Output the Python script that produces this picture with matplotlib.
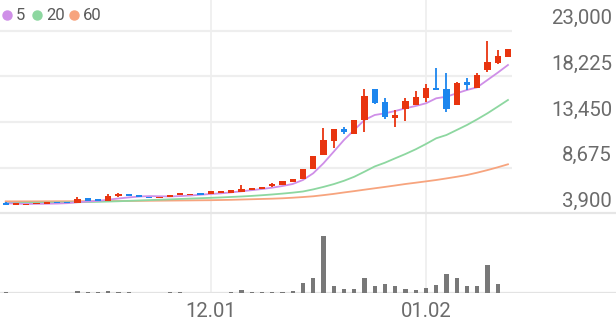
import numpy as np
import matplotlib.pyplot as plt
import matplotlib.transforms as mtransforms

plt.rcParams["font.family"] = ["Roboto", "DejaVu Sans"]

# daily candles (50 sessions)
opens = [5010, 4770, 4740, 4840, 4840, 5050, 5080, 4940, 5470, 5360,
         5220, 5740, 5950, 5740, 5640, 5500, 5640, 5810, 5780, 6020,
         5950, 6060, 6060, 6090, 6340, 6440, 6790, 6900, 7140, 7450,
         8570, 10000, 11500, 12720, 12200, 13660, 16870, 15570, 13840, 14780,
         15230, 15930, 16980, 16870, 15230, 17670, 16980, 18890, 19650, 20220]
highs = [5030, 4950, 4910, 4990, 5060, 5060, 5090, 5600, 5480, 5370,
         5920, 6060, 5960, 5750, 5650, 5610, 5820, 6030, 5960, 6030,
         6210, 6210, 6310, 6860, 6520, 6700, 7100, 7250, 7460, 8510,
         9900, 12790, 12700, 12900, 13700, 16870, 16900, 15930, 14700, 15930,
         16690, 17390, 19070, 18540, 17600, 18080, 18610, 21900, 20980, 21060]
lows = [4750, 4760, 4730, 4830, 4830, 4930, 4930, 4930, 5210, 5210,
        5210, 5640, 5700, 5630, 5490, 5490, 5630, 5800, 5770, 5840,
        5940, 6050, 6050, 6080, 6330, 6430, 6650, 6890, 7130, 7440,
        8560, 9950, 10700, 12200, 12190, 12370, 15300, 13730, 12960, 13590,
        15220, 15570, 16790, 14530, 15200, 16800, 16970, 18710, 19490, 20200]
closes = [4770, 4940, 4900, 4980, 5050, 4940, 4940, 5400, 5220, 5220,
          5740, 5920, 5710, 5640, 5500, 5600, 5810, 6020, 5950, 5850,
          6200, 6200, 6300, 6410, 6510, 6690, 6930, 7240, 7450, 8500,
          9890, 11570, 12690, 12400, 13660, 16170, 15400, 13940, 14180, 15650,
          16100, 16980, 16800, 14780, 17560, 17320, 18370, 19760, 20350, 21050]

ma5 = [4950, 4920, 4880, 4890, 4900, 4920, 4960, 5060, 5130, 5200,
       5320, 5450, 5560, 5650, 5700, 5680, 5660, 5700, 5760, 5840,
       5920, 5990, 6090, 6200, 6320, 6440, 6580, 6756, 6965, 7383,
       8084, 9130, 10343, 11567, 12613, 13659, 14182, 14360, 14600, 14883,
       15124, 15406, 15929, 16097, 16452, 16797, 17080, 17843, 18607, 19412]
ma20 = [4980, 4990, 5000, 5010, 5020, 5030, 5040, 5060, 5080, 5100,
        5130, 5160, 5200, 5240, 5280, 5320, 5360, 5400, 5440, 5480,
        5520, 5560, 5610, 5660, 5720, 5790, 5870, 5960, 6060, 6180,
        6400, 6660, 6950, 7300, 7720, 8250, 8800, 9193, 9653, 10103,
        10594, 11149, 11745, 12090, 12613, 13136, 13732, 14360, 15050, 15751]
ma60 = [5150, 5150, 5150, 5150, 5155, 5160, 5160, 5165, 5170, 5175,
        5180, 5185, 5190, 5200, 5210, 5220, 5230, 5240, 5250, 5260,
        5270, 5290, 5310, 5340, 5370, 5400, 5430, 5470, 5530, 5600,
        5680, 5800, 5930, 6080, 6220, 6370, 6515, 6660, 6810, 6965,
        7100, 7240, 7383, 7550, 7720, 7906, 8150, 8420, 8712, 9025]

# volume in thousand shares
volume = [90, 70, 80, 60, 70, 60, 80, 270, 110, 90,
          250, 120, 100, 70, 80, 60, 90, 150, 80, 70,
          80, 70, 90, 330, 110, 120, 140, 160, 250, 1060,
          1500, 5760, 730, 400, 400, 1560, 760, 900, 730, 430,
          380, 570, 830, 1900, 1530, 770, 730, 2800, 910, 0]

price_ticks = [3900, 8675, 13450, 18225, 23000]
tick_idx = [20, 41]
tick_labels = ["12.01", "01.02"]
ma_names = ["5", "20", "60"]

up_color = "#e8340f"
down_color = "#1d86ee"
ma_colors = ["#cf8fe8", "#8dd7a0", "#f7a47e"]
grid_color = "#eeeeee"
text_color = "#6b6b6b"

W, H = 616, 321
fig = plt.figure(figsize=(W / 100, H / 100), dpi=100)

# price panel: pixel x = 5.7 + 10.25 * index
x0, step = 5.7, 10.25
price_bottom = 213.3
ax = fig.add_axes([0, 1 - price_bottom / H, 512 / W, price_bottom / H])
ax.set_xlim(-x0 / step, (512 - x0) / step)
ax.set_ylim(3900, 26210)
ax.axis("off")

for p in price_ticks[1:]:
    ax.axhline(p, color=grid_color, lw=1.6, zorder=0)
for t in tick_idx:
    ax.axvline(t, color=grid_color, lw=1.2, zorder=0)

x = np.arange(len(closes))
o = np.array(opens)
c = np.array(closes)
colors = [up_color if cc >= oo else down_color for oo, cc in zip(o, c)]

ax.vlines(x, lows, highs, colors=colors, lw=1.3, zorder=3)
bottom = np.minimum(o, c)
height = np.maximum(np.abs(c - o), 150)
ax.bar(x, height, bottom=bottom, width=0.6, color=colors, zorder=4)

for vals, col in zip([ma60, ma20, ma5], ma_colors[::-1]):
    ax.plot(x, vals, color=col, lw=1.3, zorder=2)

# right-hand price labels, sitting just above their grid lines
trans = mtransforms.blended_transform_factory(fig.transFigure, ax.transData)
trans = trans + mtransforms.ScaledTranslation(0, 6.5 / 100, fig.dpi_scale_trans)
for p in price_ticks:
    fig.text(612 / W, p, f"{p:,}", transform=trans, ha="right", va="baseline",
             fontsize=14.7, color=text_color)

# full-width separator under the price panel
fig.add_artist(plt.Line2D([0, 1], [1 - price_bottom / H] * 2, color="#e6e6e6", lw=1.6))

# volume panel
vol_bottom = 293.3
axv = fig.add_axes([0, 1 - vol_bottom / H, 1, (vol_bottom - price_bottom) / H])
axv.set_xlim(-x0 / step, (W - x0) / step)
axv.set_ylim(0, 8000)
for s in axv.spines.values():
    s.set_visible(False)
axv.set_yticks([])
for t in tick_idx:
    axv.axvline(t, color=grid_color, lw=1.2, zorder=0)
axv.axhline(0, color="#e3e3e3", lw=1.6, zorder=1)
axv.bar(x, volume, width=0.4, color="#787878", zorder=2)
axv.set_xticks(tick_idx, tick_labels)
axv.tick_params(axis="x", length=0, pad=6.5, labelsize=14.7, labelcolor=text_color)

# moving-average legend
for i, (name, col) in enumerate(zip(ma_names, ma_colors)):
    dx = [7, 37, 74][i]
    fig.add_artist(plt.Line2D([dx / W], [1 - 15 / H], marker="o", ms=6.5,
                              color=col, linestyle="none"))
    fig.text((dx + 9) / W, 1 - 15.5 / H, name, ha="left", va="center",
             fontsize=12, color="#5a5a5a")

fig.savefig("out.png", dpi=100)
